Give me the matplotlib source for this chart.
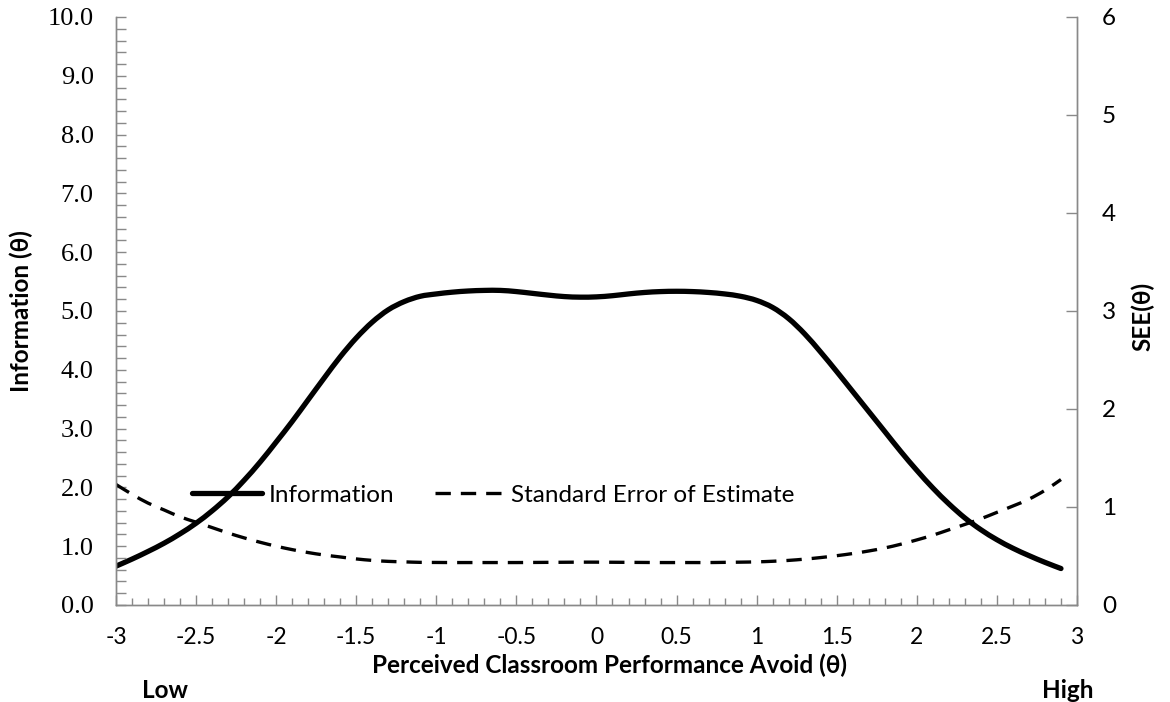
import numpy as np
import matplotlib
matplotlib.use("Agg")
import matplotlib.pyplot as plt
from matplotlib.path import Path
from matplotlib.patches import PathPatch
from matplotlib.lines import Line2D
from matplotlib.ticker import MultipleLocator, FormatStrFormatter

# theta grid, -3 to 2.9 in steps of 0.1
theta = [-3.0, -2.9, -2.8, -2.7, -2.6, -2.5, -2.4, -2.3, -2.2, -2.1,
         -2.0, -1.9, -1.8, -1.7, -1.6, -1.5, -1.4, -1.3, -1.2, -1.1,
         -1.0, -0.9, -0.8, -0.7, -0.6, -0.5, -0.4, -0.3, -0.2, -0.1,
         0.0, 0.1, 0.2, 0.3, 0.4, 0.5, 0.6, 0.7, 0.8, 0.9,
         1.0, 1.1, 1.2, 1.3, 1.4, 1.5, 1.6, 1.7, 1.8, 1.9,
         2.0, 2.1, 2.2, 2.3, 2.4, 2.5, 2.6, 2.7, 2.8, 2.9]

information = [0.66, 0.78, 0.91, 1.05, 1.21, 1.39, 1.60, 1.84, 2.12, 2.43,
               2.77, 3.12, 3.49, 3.86, 4.22, 4.54, 4.81, 5.02, 5.16, 5.25,
               5.29, 5.32, 5.34, 5.35, 5.35, 5.33, 5.30, 5.27, 5.245, 5.235,
               5.24, 5.26, 5.29, 5.315, 5.33, 5.335, 5.33, 5.315, 5.29, 5.25,
               5.18, 5.06, 4.87, 4.61, 4.30, 3.97, 3.63, 3.29, 2.95, 2.61,
               2.29, 1.99, 1.72, 1.48, 1.28, 1.11, 0.965, 0.84, 0.725, 0.62]

see = [1.23, 1.13, 1.04, 0.97, 0.90, 0.845, 0.79, 0.735, 0.685, 0.64,
       0.60, 0.565, 0.535, 0.51, 0.49, 0.47, 0.455, 0.445, 0.44, 0.435,
       0.434, 0.433, 0.433, 0.433, 0.433, 0.433, 0.434, 0.435, 0.436, 0.437,
       0.437, 0.436, 0.435, 0.434, 0.433, 0.433, 0.433, 0.433, 0.435, 0.437,
       0.44, 0.446, 0.455, 0.468, 0.484, 0.503, 0.525, 0.551, 0.582, 0.62,
       0.664, 0.712, 0.767, 0.822, 0.88, 0.945, 1.01, 1.08, 1.17, 1.28]

x_ticks = [-3, -2.5, -2, -1.5, -1, -0.5, 0, 0.5, 1, 1.5, 2, 2.5, 3]
x_ticklabels = ["-3", "-2.5", "-2", "-1.5", "-1", "-0.5", "0", "0.5", "1", "1.5", "2", "2.5", "3"]

sans = ["Lato", "DejaVu Sans"]
serif = ["Liberation Serif", "DejaVu Serif"]
grey = "#898989"
fs = 17.5


def smooth_path(xs, ys):
    # Catmull-Rom through the points, written as cubic Bezier segments
    p = np.column_stack([xs, ys]).astype(float)
    p_ext = np.vstack([p[0], p, p[-1]])
    verts = [p[0]]
    codes = [Path.MOVETO]
    for i in range(1, len(p_ext) - 2):
        p0, p1, p2, p3 = p_ext[i - 1], p_ext[i], p_ext[i + 1], p_ext[i + 2]
        verts += [p1 + (p2 - p0) / 6.0, p2 - (p3 - p1) / 6.0, p2]
        codes += [Path.CURVE4] * 3
    return Path(verts, codes)


fig = plt.figure(figsize=(11.7, 7.02), dpi=100)
ax = fig.add_axes([0.0991, 0.1382, 0.8214, 0.8376])
ax2 = ax.twinx()

ax.add_patch(PathPatch(smooth_path(theta, information), fill=False, color="black",
                       lw=3.8, capstyle="round"))
ax2.add_patch(PathPatch(smooth_path(theta, see), fill=False, color="black", lw=2.4,
                        linestyle=(0, (4.6, 3.0))))

ax.set_xlim(-3, 3)
ax.set_ylim(0, 10)
ax2.set_ylim(0, 6)

ax.set_xticks(x_ticks)
ax.set_xticklabels(x_ticklabels, family=sans, fontsize=16.5)
ax.xaxis.set_minor_locator(MultipleLocator(0.1))
ax.yaxis.set_major_locator(MultipleLocator(1.0))
ax.yaxis.set_minor_locator(MultipleLocator(0.2))
ax.yaxis.set_major_formatter(FormatStrFormatter("%.1f"))
for t in ax.get_yticklabels():
    t.set_family(serif)
    t.set_fontsize(19)
ax2.yaxis.set_major_locator(MultipleLocator(1))
for t in ax2.get_yticklabels():
    t.set_family(sans)
    t.set_fontsize(fs)

ax.tick_params(axis="x", which="major", direction="in", length=7, width=1, color=grey, pad=16)
ax.tick_params(axis="x", which="minor", direction="in", length=5, width=1, color=grey)
ax.tick_params(axis="y", which="major", direction="in", length=7, width=1, color=grey, pad=16)
ax.tick_params(axis="y", which="minor", direction="in", length=7, width=1, color=grey)
ax2.tick_params(axis="y", which="major", direction="in", length=8, width=1, color=grey, pad=18)

for a in (ax, ax2):
    a.spines["top"].set_visible(False)
    for s in ("left", "right", "bottom"):
        a.spines[s].set_color(grey)
        a.spines[s].set_linewidth(1)

ax.set_ylabel("Information (θ)", family=sans, fontsize=fs, fontweight="bold")
ax.yaxis.set_label_coords(-0.086, 0.5)
ax2.set_ylabel("SEE(θ)", family=sans, fontsize=fs, fontweight="bold")
ax2.yaxis.set_label_coords(1.056, 0.49)
ax.set_xlabel("Perceived Classroom Performance Avoid (θ)", family=sans, fontsize=fs,
              fontweight="bold")
ax.xaxis.set_label_coords(0.514, -0.083)

fig.text(165 / 1170, 1 - 690 / 702, "Low", family=sans, fontsize=fs, fontweight="bold",
         ha="center", va="center")
fig.text(1068 / 1170, 1 - 690 / 702, "High", family=sans, fontsize=fs, fontweight="bold",
         ha="center", va="center")

h1 = Line2D([], [], color="black", lw=3.8, solid_capstyle="round")
h2 = Line2D([], [], color="black", lw=2.4, dashes=(4.6, 3.0))
ax2.legend([h1, h2], ["Information", "Standard Error of Estimate"], ncol=2,
           loc="center left", bbox_to_anchor=(0.079, 0.187), frameon=False,
           borderpad=0, borderaxespad=0, handlelength=2.9, handletextpad=0.25,
           columnspacing=1.67, prop={"family": sans, "size": fs})

fig.savefig("out.png", dpi=100)
